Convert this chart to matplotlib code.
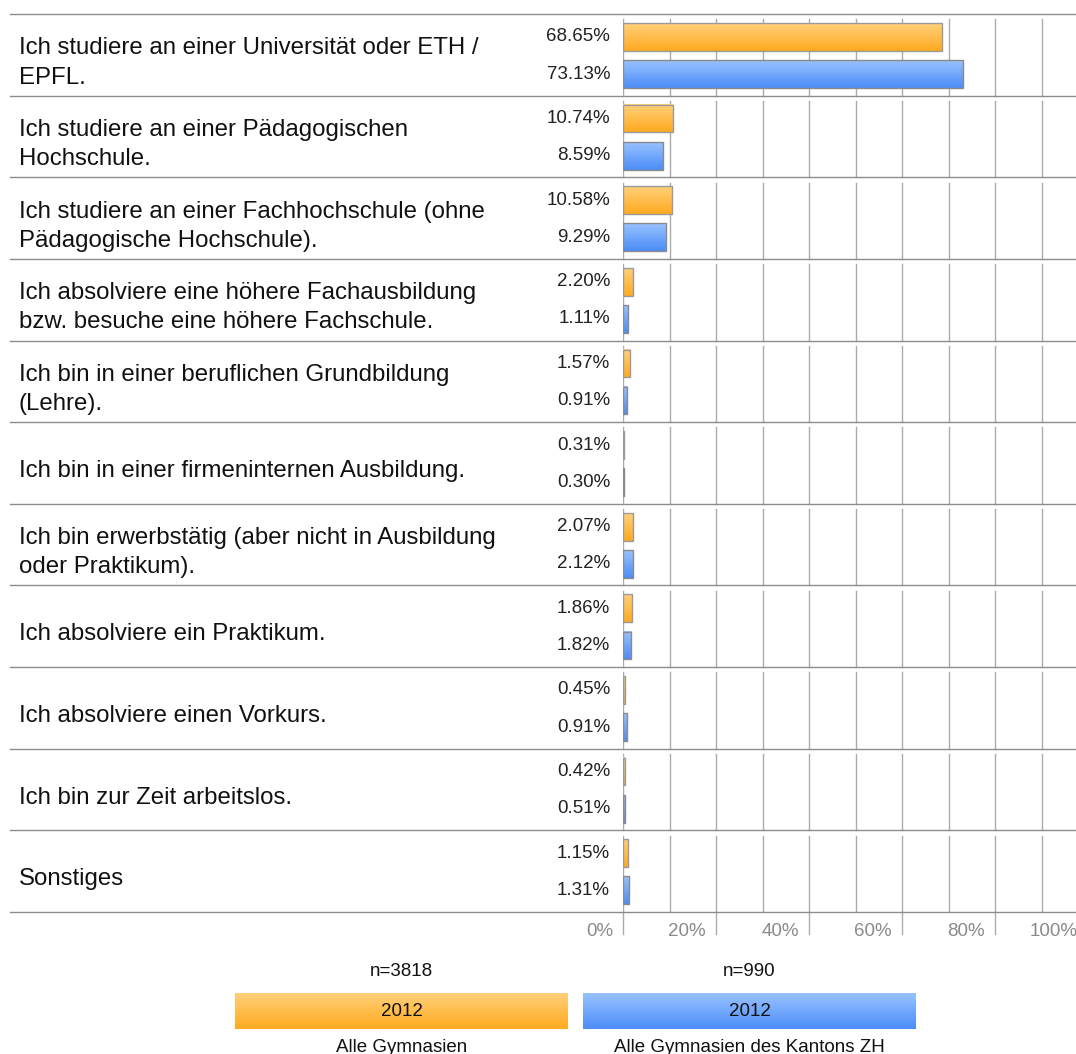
import numpy as np
import matplotlib.pyplot as plt
from matplotlib.colors import LinearSegmentedColormap

plt.rcParams['font.family'] = ['Liberation Sans', 'DejaVu Sans']

categories = [
    "Ich studiere an einer Universität oder ETH /\nEPFL.",
    "Ich studiere an einer Pädagogischen\nHochschule.",
    "Ich studiere an einer Fachhochschule (ohne\nPädagogische Hochschule).",
    "Ich absolviere eine höhere Fachausbildung\nbzw. besuche eine höhere Fachschule.",
    "Ich bin in einer beruflichen Grundbildung\n(Lehre).",
    "Ich bin in einer firmeninternen Ausbildung.",
    "Ich bin erwerbstätig (aber nicht in Ausbildung\noder Praktikum).",
    "Ich absolviere ein Praktikum.",
    "Ich absolviere einen Vorkurs.",
    "Ich bin zur Zeit arbeitslos.",
    "Sonstiges",
]
alle_gym = [68.65, 10.74, 10.58, 2.20, 1.57, 0.31, 2.07, 1.86, 0.45, 0.42, 1.15]
zh_gym = [73.13, 8.59, 9.29, 1.11, 0.91, 0.30, 2.12, 1.82, 0.91, 0.51, 1.31]
series_names = ["Alle Gymnasien", "Alle Gymnasien des Kantons ZH"]
series_n = ["n=3818", "n=990"]
series_year = ["2012", "2012"]
xticks = [0, 20, 40, 60, 80, 100]
xtick_labels = ["0%", "20%", "40%", "60%", "80%", "100%"]

W, H = 1076, 1054
fig = plt.figure(figsize=(W / 100, H / 100), dpi=100)

# 0% sits at x=623 px, 10% = 46.5 px
x0_px = 623
px_per_pct = 4.65
ax = fig.add_axes([x0_px / W, 1 - 912 / H, 1 - x0_px / W, (912 - 14) / H])
xmax = (W - x0_px) / px_per_pct

orange_cmap = LinearSegmentedColormap.from_list("o", ["#ffd07a", "#ffaa20"])
blue_cmap = LinearSegmentedColormap.from_list("b", ["#98c2ff", "#4c8df8"])
grad = np.linspace(0, 1, 64).reshape(-1, 1)

n = len(categories)
y = np.arange(n)
bar_h = 0.34
off_o = 0.28
off_b = 0.735

bars_o = ax.barh(y + off_o, alle_gym, height=bar_h, facecolor="none",
                 edgecolor="#9a9a9a", linewidth=1, zorder=3)
bars_b = ax.barh(y + off_b, zh_gym, height=bar_h, facecolor="none",
                 edgecolor="#8a8a8a", linewidth=1, zorder=3)

# gradient fill inside each bar
for bars, cmap in [(bars_o, orange_cmap), (bars_b, blue_cmap)]:
    for b in bars:
        bx, by = b.get_x(), b.get_y()
        bw, bh = b.get_width(), b.get_height()
        ax.imshow(grad, cmap=cmap, aspect='auto', zorder=2.5,
                  extent=(bx, bx + bw, by + bh, by), interpolation='bilinear')

ax.set_xlim(0, xmax)
ax.set_ylim(n, 0)
ax.axis('off')

# vertical grid per group
yt = ax.get_yaxis_transform()
for i in range(n):
    for g in range(0, 100, 10):
        ax.plot([g, g], [i + 0.065, i + 1], color="#ababab", lw=1, zorder=1)

# major tick marks below the axis
for t in xticks:
    ax.plot([t, t], [n, n + 0.27], color="#ababab", lw=1, zorder=1, clip_on=False)

# separators across the whole width
left_frac = (10 - x0_px) / (W - x0_px)
for i in range(n + 1):
    ax.plot([left_frac, 1], [i, i], color="#8c8c8c", lw=1, transform=yt,
            clip_on=False, zorder=4)

# value labels
for i in range(n):
    ax.annotate(f"{alle_gym[i]:.2f}%", xy=(0, i + off_o), xytext=(-13, 0),
                textcoords='offset pixels', ha='right', va='center', fontsize=13.5,
                color="#222222")
    ax.annotate(f"{zh_gym[i]:.2f}%", xy=(0, i + off_b), xytext=(-13, 0),
                textcoords='offset pixels', ha='right', va='center', fontsize=13.5,
                color="#222222")
    lab_x = (19 - x0_px) / (W - x0_px)
    ax.text(lab_x, i + 0.6, categories[i], transform=yt, ha='left', va='center',
            fontsize=17.3, color="#111111", linespacing=1.415)

for t, lab in zip(xticks, xtick_labels):
    ax.annotate(lab, xy=(t, n + 0.24), xytext=(-10, 0), textcoords='offset pixels',
                ha='right', va='center', fontsize=13.5, color="#8a8a8a",
                annotation_clip=False)

# legend boxes at the bottom
box_left = [235, 583]
box_w, box_top, box_h = 333, 993, 36
for k in range(2):
    cmap = orange_cmap if k == 0 else blue_cmap
    lax = fig.add_axes([box_left[k] / W, 1 - (box_top + box_h) / H, box_w / W, box_h / H])
    lax.imshow(grad, cmap=cmap, aspect='auto', extent=(0, 1, 0, 1),
               interpolation='bilinear')
    lax.set_xlim(0, 1)
    lax.set_ylim(0, 1)
    lax.axis('off')
    lax.text(0.5, 0.5, series_year[k], ha='center', va='center', fontsize=13.5,
             color="#111111")
    cx = (box_left[k] + box_w / 2) / W
    fig.text(cx, 1 - 971 / H, series_n[k], ha='center', va='center', fontsize=13.5,
             color="#111111")
    fig.text(cx, 1 - 1048 / H, series_names[k], ha='center', va='center',
             fontsize=13.5, color="#111111")

fig.savefig("out.png", dpi=100)
